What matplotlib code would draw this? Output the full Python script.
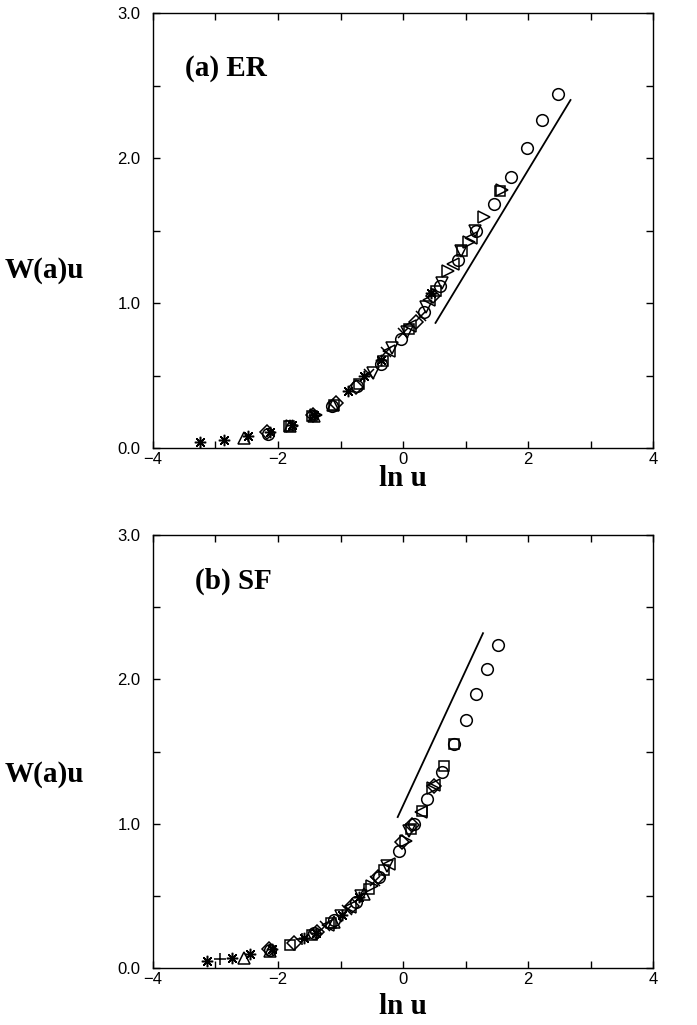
import matplotlib
matplotlib.use("Agg")
import matplotlib.pyplot as plt
from matplotlib.ticker import MultipleLocator, FixedLocator

# ---- panel (a) ER : W(a)u versus ln u, one list per symbol ----
er_circle_x = [-2.16, -1.14, -0.73, -0.36, -0.03, 0.34, 0.59, 0.88, 1.17, 1.45, 1.73, 1.99, 2.23, 2.48]
er_circle_y = [0.10, 0.29, 0.43, 0.58, 0.75, 0.94, 1.12, 1.30, 1.50, 1.68, 1.87, 2.07, 2.26, 2.44]
er_square_x = [-1.83, -1.45, -1.10, -0.70, -0.32, 0.10, 0.52, 0.95, 1.55]
er_square_y = [0.15, 0.22, 0.30, 0.44, 0.60, 0.82, 1.08, 1.36, 1.77]
er_tright_x = [-1.78, -1.40, 0.72, 1.05, 1.30, 1.58]
er_tright_y = [0.155, 0.23, 1.22, 1.42, 1.59, 1.78]
er_diamond_x = [-2.18, -1.44, -1.08, -0.75, 0.20, 0.48]
er_diamond_y = [0.11, 0.225, 0.31, 0.42, 0.87, 1.05]
er_tdown_x = [-0.48, -0.17, 0.06, 0.36, 0.62, 0.93, 1.15]
er_tdown_y = [0.52, 0.69, 0.80, 0.97, 1.14, 1.36, 1.50]
er_tleft_x = [-0.22, 0.11, 0.42, 0.80, 1.08]
er_tleft_y = [0.67, 0.84, 1.02, 1.27, 1.45]
er_tup_x = [-2.55, -1.80, -1.42, -1.12]
er_tup_y = [0.07, 0.15, 0.22, 0.295]
er_star_x = [-3.24, -2.86, -2.48, -2.12, -1.78, -1.42, -0.88, -0.62, -0.36, 0.45]
er_star_y = [0.04, 0.055, 0.08, 0.11, 0.16, 0.23, 0.39, 0.50, 0.61, 1.07]
er_cross_x = [-0.55, -0.28, 0.0, 0.28]
er_cross_y = [0.51, 0.66, 0.79, 0.91]
er_fit_x = [0.52, 2.68]
er_fit_y = [0.863, 2.40]

# ---- panel (b) SF ----
sf_circle_x = [-2.13, -1.43, -1.11, -0.76, -0.39, -0.07, 0.17, 0.385, 0.625, 0.81, 1.00, 1.17, 1.34, 1.52]
sf_circle_y = [0.125, 0.24, 0.33, 0.46, 0.63, 0.81, 1.00, 1.17, 1.36, 1.55, 1.72, 1.90, 2.07, 2.24]
sf_square_x = [-1.80, -1.45, -1.15, -0.55, -0.30, 0.12, 0.30, 0.65, 0.81]
sf_square_y = [0.16, 0.23, 0.31, 0.55, 0.68, 0.96, 1.09, 1.40, 1.55]
sf_diamond_x = [-2.15, -1.75, -1.38, -0.82, -0.40, -0.02, 0.14, 0.49]
sf_diamond_y = [0.13, 0.17, 0.25, 0.43, 0.63, 0.87, 0.99, 1.26]
sf_tup_x = [-2.55, -2.13, -1.10, -0.63]
sf_tup_y = [0.07, 0.12, 0.32, 0.51]
sf_tleft_x = [-1.20, -0.85, -0.22, 0.28, 0.50]
sf_tleft_y = [0.30, 0.42, 0.72, 1.08, 1.27]
sf_tdown_x = [-1.00, -0.67, -0.25, 0.10]
sf_tdown_y = [0.36, 0.50, 0.71, 0.95]
sf_tright_x = [-0.50, 0.05, 0.48]
sf_tright_y = [0.57, 0.88, 1.25]
sf_star_x = [-3.14, -2.74, -2.45, -2.10, -1.58, -1.40, -0.98, -0.70]
sf_star_y = [0.046, 0.07, 0.095, 0.13, 0.21, 0.245, 0.37, 0.49]
sf_plus_x = [-2.92, -1.62]
sf_plus_y = [0.06, 0.20]
sf_cross_x = [-1.25, -0.90, -0.45]
sf_cross_y = [0.29, 0.40, 0.60]
sf_fit_x = [-0.085, 1.28]
sf_fit_y = [1.046, 2.32]

x_ticks = [-4, -2, 0, 2, 4]
y_ticks = [0.0, 1.0, 2.0, 3.0]

serif = "Liberation Serif"
sans = "Liberation Sans"
star = (8, 2, 0)

er_series = [
    (er_circle_x, er_circle_y, "o", 8.4),
    (er_square_x, er_square_y, "s", 7.2),
    (er_tright_x, er_tright_y, ">", 8.2),
    (er_diamond_x, er_diamond_y, "D", 6.7),
    (er_tdown_x, er_tdown_y, "v", 8.2),
    (er_tleft_x, er_tleft_y, "<", 8.2),
    (er_tup_x, er_tup_y, "^", 8.2),
    (er_star_x, er_star_y, star, 8.2),
    (er_cross_x, er_cross_y, "x", 6.7),
]
sf_series = [
    (sf_circle_x, sf_circle_y, "o", 8.4),
    (sf_square_x, sf_square_y, "s", 7.2),
    (sf_diamond_x, sf_diamond_y, "D", 6.7),
    (sf_tup_x, sf_tup_y, "^", 8.2),
    (sf_tleft_x, sf_tleft_y, "<", 8.2),
    (sf_tdown_x, sf_tdown_y, "v", 8.2),
    (sf_tright_x, sf_tright_y, ">", 8.2),
    (sf_star_x, sf_star_y, star, 8.2),
    (sf_plus_x, sf_plus_y, "+", 9.0),
    (sf_cross_x, sf_cross_y, "x", 6.7),
]

fig = plt.figure(figsize=(6.97, 10.25), dpi=100)
ax_a = fig.add_axes([0.2195, 0.5629, 0.7174, 0.4244])
ax_b = fig.add_axes([0.2195, 0.0556, 0.7174, 0.4224])


def draw_panel(ax, series, fit_x, fit_y, tag, tag_xy):
    for xs, ys, m, ms in series:
        ax.plot(xs, ys, linestyle="none", marker=m, markersize=ms,
                markerfacecolor="none", markeredgecolor="black",
                markeredgewidth=1.1, color="black")
    ax.plot(fit_x, fit_y, color="black", linewidth=1.3)
    ax.set_xlim(-4, 4)
    ax.set_ylim(0, 3)
    ax.xaxis.set_major_locator(FixedLocator(x_ticks))
    ax.xaxis.set_minor_locator(MultipleLocator(1))
    ax.yaxis.set_major_locator(FixedLocator(y_ticks))
    ax.yaxis.set_minor_locator(MultipleLocator(0.5))
    ax.set_yticklabels(["%.1f" % v for v in y_ticks])
    ax.set_xticklabels(["\u2212%d" % -v if v < 0 else "%d" % v for v in x_ticks])
    ax.tick_params(which="both", direction="in", top=True, right=True,
                   length=5, width=1.0, labelsize=12)
    ax.tick_params(axis="x", pad=3)
    ax.tick_params(axis="y", pad=9)
    for lab in ax.get_xticklabels() + ax.get_yticklabels():
        lab.set_fontfamily(sans)
    for sp in ax.spines.values():
        sp.set_linewidth(1.0)
    ax.text(tag_xy[0], tag_xy[1], tag, fontsize=21, fontweight="bold",
            family=serif, ha="left", va="center")


draw_panel(ax_a, er_series, er_fit_x, er_fit_y, "(a) ER", (-3.48, 2.62))
draw_panel(ax_b, sf_series, sf_fit_x, sf_fit_y, "(b) SF", (-3.33, 2.68))

fig.text(5 / 697, 1 - 270 / 1025, "W(a)u", fontsize=21, fontweight="bold",
         family=serif, ha="left", va="center")
fig.text(5 / 697, 1 - 774 / 1025, "W(a)u", fontsize=21, fontweight="bold",
         family=serif, ha="left", va="center")
fig.text(403 / 697, 1 - 479 / 1025, "ln u", fontsize=21, fontweight="bold",
         family=serif, ha="center", va="center")
fig.text(403 / 697, 1 - 1007 / 1025, "ln u", fontsize=21, fontweight="bold",
         family=serif, ha="center", va="center")

fig.savefig("out.png", dpi=100)
